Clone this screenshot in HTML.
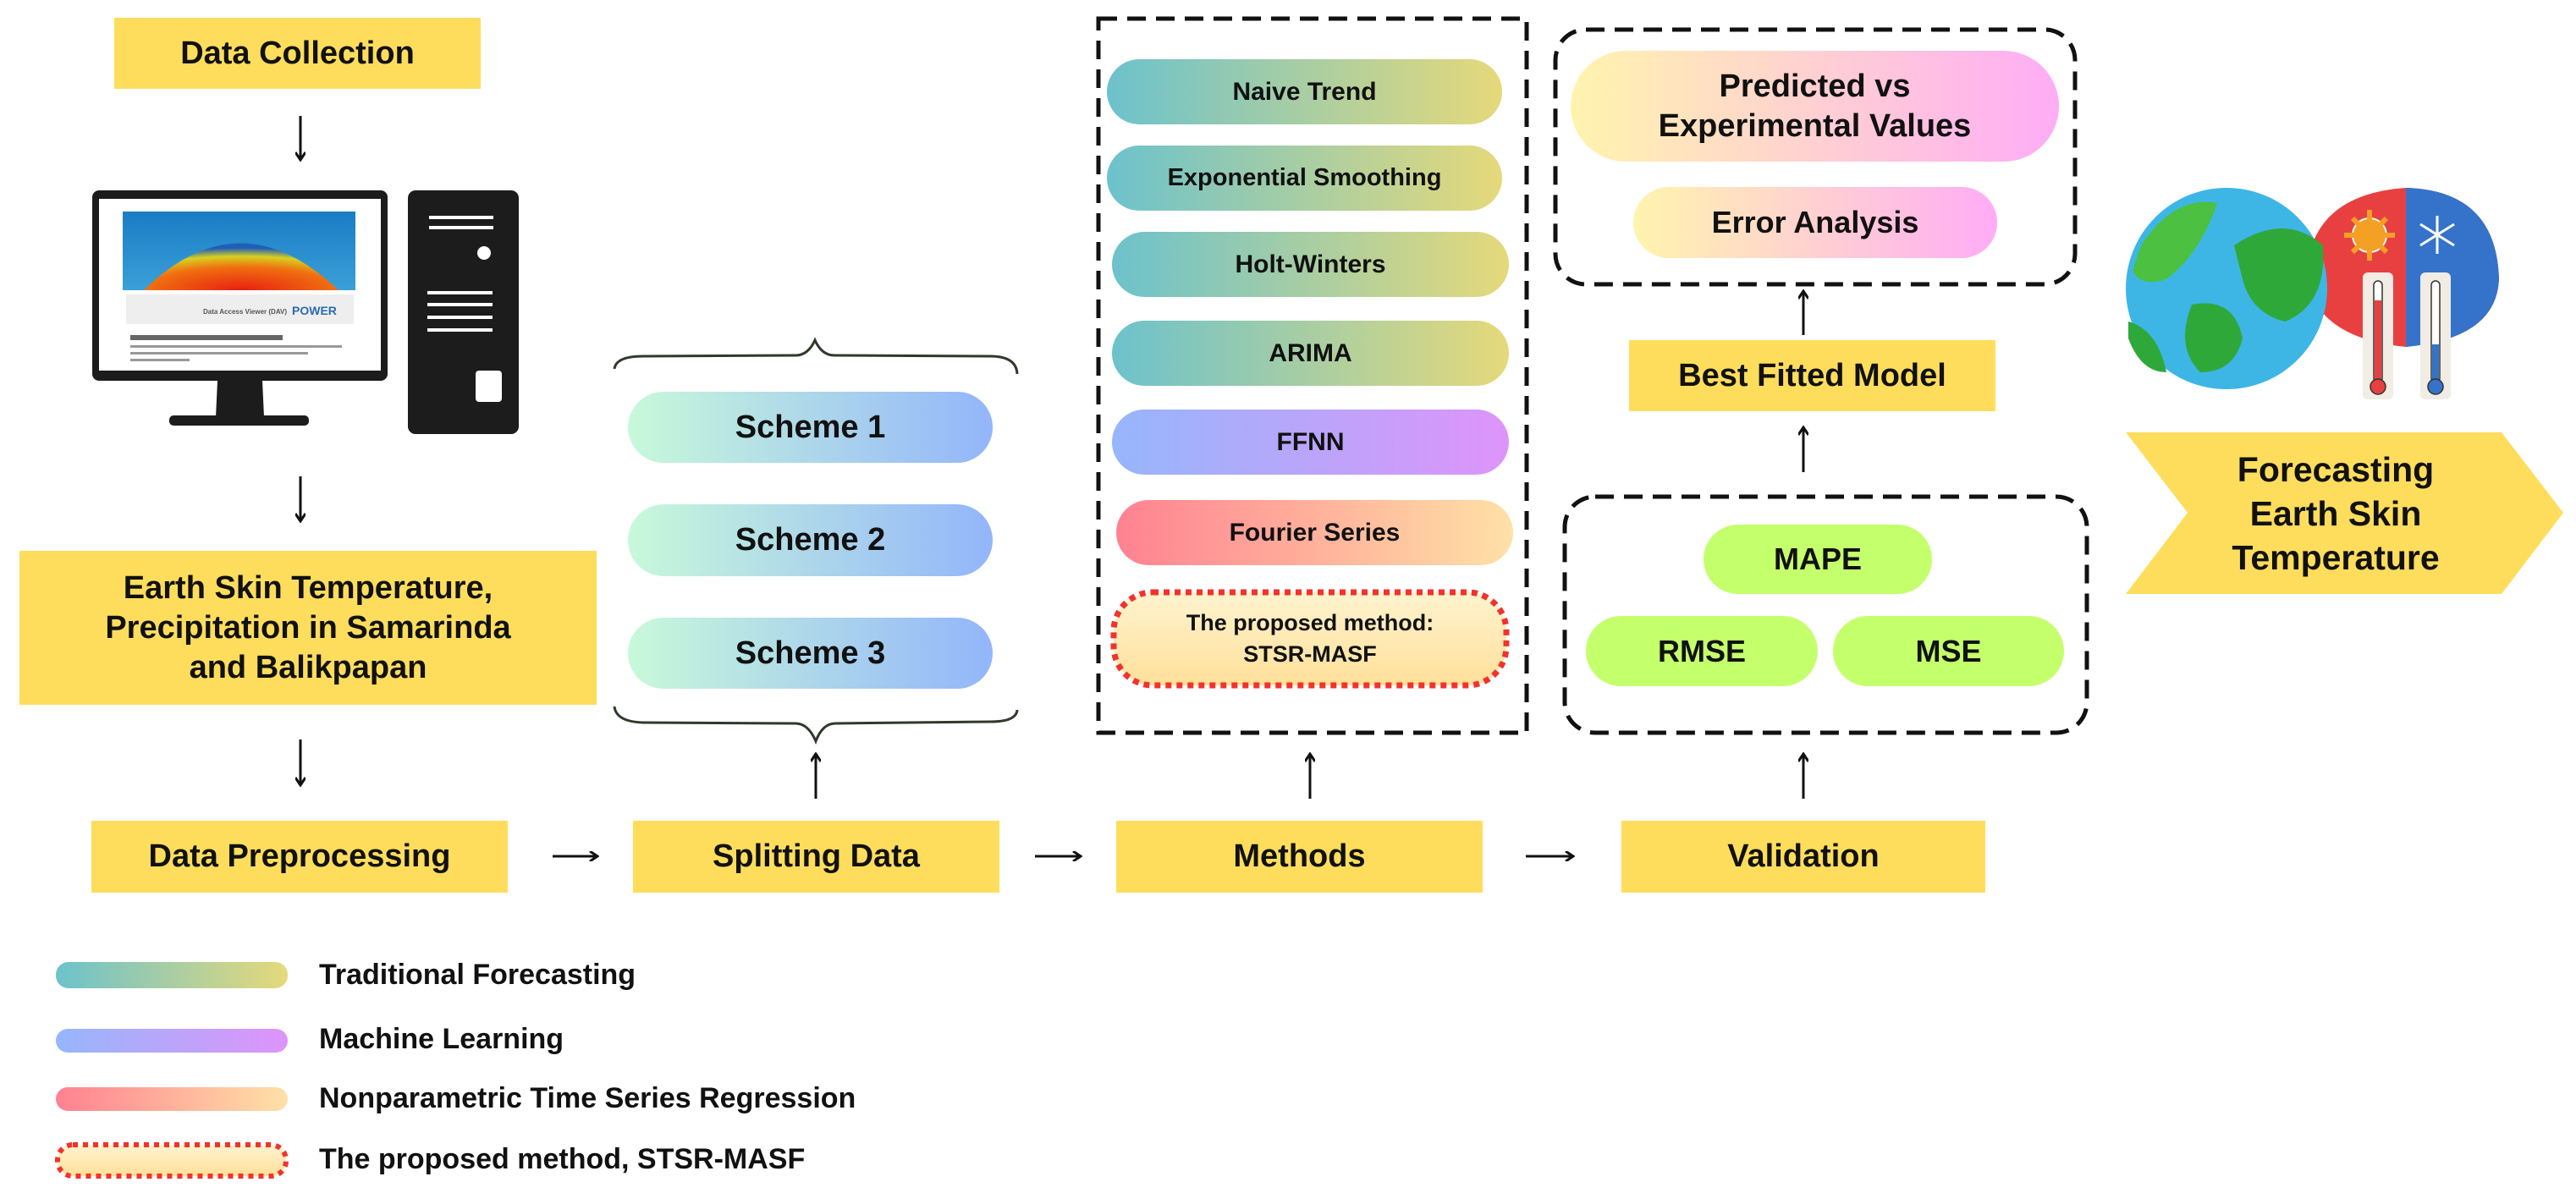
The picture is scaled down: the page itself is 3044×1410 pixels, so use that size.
<!DOCTYPE html>
<html><head><meta charset="utf-8"><style>
body{margin:0;background:#fff;}
#c{position:relative;width:3044px;height:1410px;overflow:hidden;background:#fff;font-family:"Liberation Sans",sans-serif;font-weight:bold;color:#111;}
.b{position:absolute;display:flex;align-items:center;justify-content:center;text-align:center;box-sizing:border-box;}
.y{background:#FFDD5C;font-size:38px;}
.p{border-radius:44px;font-size:30px;}
.tf{background:linear-gradient(90deg,#6CC2CC,#E5D97A);}
.ml{background:linear-gradient(90deg,#96B6FB,#DE94FA);}
.np{background:linear-gradient(90deg,#FF8191,#FFE1A6);}
.sc{background:linear-gradient(90deg,#C8F9DA,#93B5FA);font-size:38px;}
.pv{background:linear-gradient(90deg,#FFF4AE,#FFACF6);}
.mt{background:#C4FF6C;font-size:36px;}
.lg{position:absolute;left:377px;font-size:34px;line-height:40px;}
</style></head><body><div id="c">
<svg width="3044" height="1410" style="position:absolute;left:0;top:0">
<defs>
<marker id="ah" markerWidth="12" markerHeight="12" refX="9" refY="6" orient="auto" markerUnits="userSpaceOnUse"><path d="M1,0 L10,6 L1,12" fill="none" stroke="#111" stroke-width="3"/></marker>
<linearGradient id="sky" x1="0" y1="0" x2="0" y2="1"><stop offset="0" stop-color="#1a7cc4"/><stop offset="1" stop-color="#3aa0d8"/></linearGradient>
<radialGradient id="heat" cx="0.5" cy="1" r="0.9"><stop offset="0" stop-color="#e82010"/><stop offset="0.55" stop-color="#f07010"/><stop offset="0.8" stop-color="#d8d020"/><stop offset="1" stop-color="#1f5fb8"/></radialGradient>
<linearGradient id="prop" x1="0" y1="0" x2="0" y2="1"><stop offset="0" stop-color="#FFF3CE"/><stop offset="1" stop-color="#FFE09A"/></linearGradient>
</defs>
<g stroke="#111" stroke-width="3" fill="none" marker-end="url(#ah)">
<line x1="355" y1="137" x2="355" y2="188"/>
<line x1="355" y1="563" x2="355" y2="615"/>
<line x1="355" y1="874" x2="355" y2="927"/>
<line x1="653" y1="1012" x2="705" y2="1012"/>
<line x1="1223" y1="1012" x2="1276" y2="1012"/>
<line x1="1803" y1="1012" x2="1858" y2="1012"/>
<line x1="964" y1="944" x2="964" y2="892"/>
<line x1="1548" y1="944" x2="1548" y2="892"/>
<line x1="2131" y1="944" x2="2131" y2="892"/>
<line x1="2131" y1="558" x2="2131" y2="506"/>
<line x1="2131" y1="396" x2="2131" y2="345"/>
</g>
<!-- braces -->
<path d="M726,436 Q728,421 760,421 L940,420 Q955,420 963,402 Q971,420 986,420 L1170,421 Q1201,421 1202,442" fill="none" stroke="#2f3a2a" stroke-width="3"/>
<path d="M726,835 Q728,853 760,854 L940,855 Q955,855 964,876 Q972,855 987,855 L1170,853 Q1201,853 1202,839" fill="none" stroke="#2f3a2a" stroke-width="3"/>
<!-- dashed boxes -->
<rect x="1298" y="22" width="506" height="844" fill="none" stroke="#111" stroke-width="5" stroke-dasharray="22,12"/>
<rect x="1838" y="35" width="614" height="301" rx="36" fill="none" stroke="#111" stroke-width="5" stroke-dasharray="22,12"/>
<rect x="1849" y="587" width="617" height="279" rx="36" fill="none" stroke="#111" stroke-width="5" stroke-dasharray="22,12"/>
<!-- computer -->
<rect x="109" y="225" width="349" height="225" rx="8" fill="#1c1c1c"/>
<rect x="117" y="235" width="333" height="203" fill="#fff"/>
<rect x="145" y="250" width="275" height="93" fill="url(#sky)"/>
<path d="M170,343 Q283,232 400,343 Z" fill="url(#heat)"/>
<rect x="149" y="348" width="269" height="35" fill="#eee"/>
<text x="240" y="371" font-size="8" fill="#555">Data Access Viewer (DAV)</text>
<text x="345" y="372" font-size="14" fill="#2a6ab0" font-weight="bold">POWER</text>
<rect x="154" y="396" width="180" height="6" fill="#666"/>
<rect x="154" y="408" width="250" height="3" fill="#999"/>
<rect x="154" y="416" width="210" height="3" fill="#999"/>
<rect x="154" y="424" width="70" height="3" fill="#999"/>
<polygon points="257,450 310,450 312,493 255,493" fill="#1c1c1c"/>
<rect x="200" y="491" width="165" height="12" rx="5" fill="#1c1c1c"/>
<rect x="482" y="225" width="131" height="288" rx="9" fill="#1c1c1c"/>
<g fill="#fff"><rect x="507" y="255" width="76" height="4"/><rect x="507" y="267" width="76" height="4"/>
<circle cx="572" cy="299" r="8"/>
<rect x="505" y="344" width="77" height="4"/><rect x="505" y="358" width="77" height="4"/><rect x="505" y="373" width="77" height="4"/><rect x="505" y="388" width="77" height="4"/>
<rect x="562" y="438" width="31" height="37" rx="4"/></g>
<!-- globe illustration -->
<path d="M2725,330 Q2728,230 2843,222 Q2950,225 2953,330 Q2950,400 2843,410 Q2740,400 2725,330 Z" fill="#E84040"/>
<path d="M2843,222 Q2950,225 2953,330 Q2950,400 2843,410 Z" fill="#3473C9"/>
<circle cx="2800" cy="278" r="20" fill="#F3A024" stroke="#fff" stroke-width="2"/>
<g stroke="#F3A024" stroke-width="6"><line x1="2800" y1="248" x2="2800" y2="308"/><line x1="2770" y1="278" x2="2830" y2="278"/><line x1="2780" y1="258" x2="2820" y2="298"/><line x1="2820" y1="258" x2="2780" y2="298"/></g>
<circle cx="2800" cy="278" r="19" fill="#F3A024"/>
<g stroke="#fff" stroke-width="3"><line x1="2880" y1="255" x2="2880" y2="300"/><line x1="2860" y1="265" x2="2900" y2="290"/><line x1="2860" y1="290" x2="2900" y2="265"/></g>
<circle cx="2631" cy="341" r="119" fill="#3DB6E6"/>
<path d="M2530,290 Q2570,230 2620,240 Q2600,300 2560,330 Q2530,340 2520,320 Z" fill="#4CC040"/>
<path d="M2640,290 Q2700,250 2745,290 Q2750,360 2700,380 Q2660,370 2650,330 Z" fill="#2FA83A"/>
<path d="M2590,360 Q2640,350 2650,400 Q2640,440 2600,440 Q2570,410 2590,360 Z" fill="#2FA83A"/>
<path d="M2515,380 Q2550,390 2560,440 Q2530,440 2515,400 Z" fill="#2FA83A"/>
<rect x="2792" y="322" width="36" height="150" rx="6" fill="#F1ECE4"/>
<rect x="2860" y="322" width="36" height="150" rx="6" fill="#F1ECE4"/>
<rect x="2805" y="332" width="10" height="120" rx="5" fill="#fff" stroke="#333" stroke-width="1.5"/>
<rect x="2806" y="355" width="8" height="95" fill="#E84040"/>
<circle cx="2810" cy="457" r="9" fill="#E84040" stroke="#333" stroke-width="1.5"/>
<rect x="2873" y="332" width="10" height="120" rx="5" fill="#fff" stroke="#333" stroke-width="1.5"/>
<rect x="2874" y="407" width="8" height="43" fill="#3473C9"/>
<circle cx="2878" cy="457" r="9" fill="#3473C9" stroke="#333" stroke-width="1.5"/>
<!-- chevron -->
<polygon points="2512,511 2956,511 3029,606 2956,702 2512,702 2585,606" fill="#FFDD5C"/>
<!-- proposed -->
<rect x="1316" y="700" width="464" height="110" rx="46" fill="url(#prop)" stroke="#F3322B" stroke-width="7" stroke-dasharray="7,6"/>
<!-- legend -->
<defs>
<linearGradient id="g1"><stop offset="0" stop-color="#6CC2CC"/><stop offset="1" stop-color="#E5D97A"/></linearGradient>
<linearGradient id="g2"><stop offset="0" stop-color="#96B6FB"/><stop offset="1" stop-color="#DE94FA"/></linearGradient>
<linearGradient id="g3"><stop offset="0" stop-color="#FF8191"/><stop offset="1" stop-color="#FFE1A6"/></linearGradient>
</defs>
<rect x="66" y="1137" width="274" height="31" rx="15" fill="url(#g1)"/>
<rect x="66" y="1216" width="274" height="28" rx="14" fill="url(#g2)"/>
<rect x="66" y="1285" width="274" height="28" rx="14" fill="url(#g3)"/>
<rect x="68" y="1353" width="270" height="37" rx="18" fill="url(#prop)" stroke="#F3322B" stroke-width="6" stroke-dasharray="6,6"/>
</svg>

<div class="b y" style="left:135px;top:21px;width:433px;height:84px;">Data Collection</div>
<div class="b y" style="left:23px;top:651px;width:682px;height:182px;line-height:47px;">Earth Skin Temperature,<br>Precipitation in Samarinda<br>and Balikpapan</div>
<div class="b y" style="left:108px;top:970px;width:492px;height:85px;">Data Preprocessing</div>
<div class="b y" style="left:748px;top:970px;width:433px;height:85px;">Splitting Data</div>
<div class="b y" style="left:1319px;top:970px;width:433px;height:85px;">Methods</div>
<div class="b y" style="left:1916px;top:970px;width:430px;height:85px;">Validation</div>
<div class="b y" style="left:1925px;top:402px;width:433px;height:84px;">Best Fitted Model</div>

<div class="b p sc" style="left:742px;top:463px;width:431px;height:84px;">Scheme 1</div>
<div class="b p sc" style="left:742px;top:596px;width:431px;height:85px;">Scheme 2</div>
<div class="b p sc" style="left:742px;top:730px;width:431px;height:84px;">Scheme 3</div>

<div class="b p tf" style="left:1308px;top:70px;width:467px;height:77px;">Naive Trend</div>
<div class="b p tf" style="left:1308px;top:172px;width:467px;height:77px;font-size:29px;">Exponential Smoothing</div>
<div class="b p tf" style="left:1314px;top:274px;width:469px;height:77px;">Holt-Winters</div>
<div class="b p tf" style="left:1314px;top:379px;width:469px;height:77px;">ARIMA</div>
<div class="b p ml" style="left:1314px;top:484px;width:469px;height:77px;">FFNN</div>
<div class="b p np" style="left:1319px;top:591px;width:469px;height:77px;">Fourier Series</div>
<div class="b" style="left:1316px;top:700px;width:464px;height:110px;font-size:27px;line-height:37px;">The proposed method:<br>STSR-MASF</div>

<div class="b p pv" style="left:1856px;top:60px;width:577px;height:131px;border-radius:66px;font-size:38px;line-height:47px;">Predicted vs<br>Experimental Values</div>
<div class="b p pv" style="left:1930px;top:221px;width:430px;height:84px;font-size:36px;">Error Analysis</div>

<div class="b p mt" style="left:2013px;top:620px;width:270px;height:82px;">MAPE</div>
<div class="b p mt" style="left:1874px;top:728px;width:274px;height:83px;">RMSE</div>
<div class="b p mt" style="left:2166px;top:728px;width:273px;height:83px;">MSE</div>

<div class="b" style="left:2560px;top:511px;width:400px;height:191px;font-size:41px;line-height:52px;">Forecasting<br>Earth Skin<br>Temperature</div>

<div class="lg" style="top:1132px;">Traditional Forecasting</div>
<div class="lg" style="top:1208px;">Machine Learning</div>
<div class="lg" style="top:1278px;">Nonparametric Time Series Regression</div>
<div class="lg" style="top:1350px;">The proposed method, STSR-MASF</div>
</div></body></html>
